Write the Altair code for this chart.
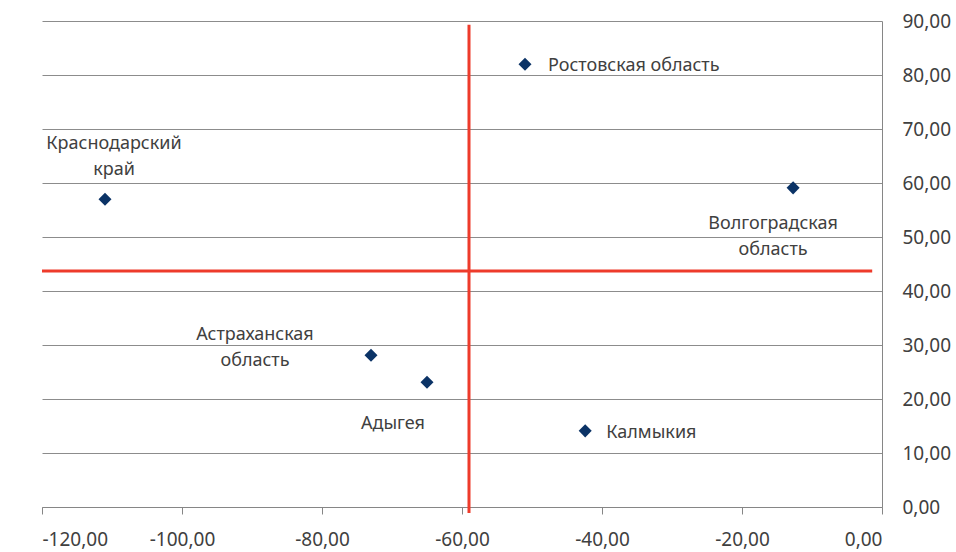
import altair as alt
import pandas as pd

# Regions and their coordinates
regions = [
    "Ростовская область",
    "Краснодарский край",
    "Волгоградская область",
    "Астраханская область",
    "Адыгея",
    "Калмыкия",
]
x_values = [-51.0, -111.0, -12.7, -73.0, -65.0, -42.4]
y_values = [82.0, 57.0, 59.1, 28.1, 23.1, 14.1]

# Labels drawn next to each point (with line breaks)
label_texts = [
    "Ростовская область",
    "Краснодарский\nкрай",
    "Волгоградская\nобласть",
    "Астраханская\nобласть",
    "Адыгея",
    "Калмыкия",
]

# Red crosshair lines (mean levels)
mean_x = -59.0
mean_y = 43.7

x_ticks = [-120, -100, -80, -60, -40, -20, 0]
y_ticks = [0, 10, 20, 30, 40, 50, 60, 70, 80, 90]

FONT = "Noto Sans"
TEXT_COLOR = "#404040"

points = pd.DataFrame({"region": regions, "x": x_values, "y": y_values, "label": label_texts})

x_scale = alt.Scale(domain=[-120, 0], nice=False, zero=False)
y_scale = alt.Scale(domain=[0, 90], nice=False, zero=False)

num_fmt = "replace(replace(format(datum.value, '.2f'), '.', ','), '\u2212', '-')"

x_axis = alt.Axis(
    values=x_ticks, labelExpr=num_fmt, grid=False, title=None,
    domainColor="#868686", tickColor="#868686", tickSize=7,
    labelFont=FONT, labelFontSize=19, labelColor=TEXT_COLOR, labelPadding=16,
)
y_axis = alt.Axis(
    orient="right", values=y_ticks, labelExpr=num_fmt, title=None,
    grid=True, gridColor="#8c8c8c", gridWidth=1,
    domainColor="#868686", tickSize=0,
    labelFont=FONT, labelFontSize=19, labelColor=TEXT_COLOR, labelPadding=20,
    labelAlign="left",
)

base = alt.Chart(points)

pts = base.mark_point(
    shape="diamond", filled=True, size=170, color="#0b3366", opacity=1
).encode(
    x=alt.X("x:Q", scale=x_scale, axis=x_axis),
    y=alt.Y("y:Q", scale=y_scale, axis=y_axis),
)

# Vertical and horizontal red reference lines
vline = alt.Chart(pd.DataFrame({"x": [mean_x], "y1": [-1.1], "y2": [89.3]})).mark_rule(
    color="#ee3b2b", strokeWidth=3, clip=False
).encode(x=alt.X("x:Q", scale=x_scale), y=alt.Y("y1:Q", scale=y_scale), y2="y2:Q")

hline = alt.Chart(pd.DataFrame({"y": [mean_y], "x1": [-120.0], "x2": [-1.4]})).mark_rule(
    color="#ee3b2b", strokeWidth=3
).encode(y=alt.Y("y:Q", scale=y_scale), x=alt.X("x1:Q", scale=x_scale), x2="x2:Q")

# Label placement per region: (dx, dy of first line, align)
placement = {
    "Ростовская область": (23, 2, "left"),
    "Краснодарский край": (9, -55, "center"),
    "Волгоградская область": (-20, 36, "center"),
    "Астраханская область": (-116, -20, "center"),
    "Адыгея": (-34, 42, "center"),
    "Калмыкия": (21, 2, "left"),
}

labels = []
for name, (dx, dy, align) in placement.items():
    labels.append(
        base.transform_filter(alt.datum.region == name).mark_text(
            dx=dx, dy=dy, align=align, baseline="middle", lineBreak="\n",
            lineHeight=26, font=FONT, fontSize=18, color=TEXT_COLOR,
        ).encode(
            x=alt.X("x:Q", scale=x_scale),
            y=alt.Y("y:Q", scale=y_scale),
            text="label:N",
        )
    )

chart = alt.layer(vline, hline, pts, *labels).properties(
    width=840, height=486,
    padding={"left": 42, "top": 21, "right": 74, "bottom": 45},
    autosize=alt.AutoSizeParams(type="none"),
    background="white",
).configure_view(stroke=None)

chart.save("out.html", embed_options={"renderer": "svg", "actions": False})
